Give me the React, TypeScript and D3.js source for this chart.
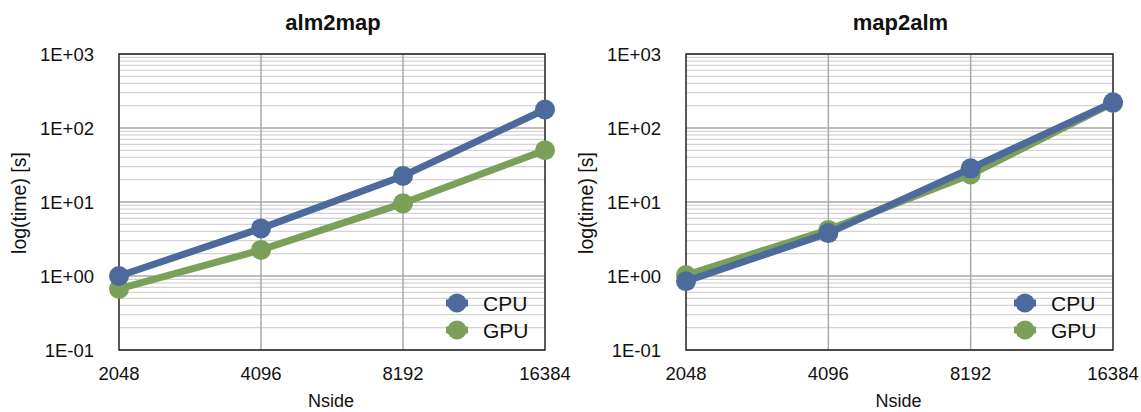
import React, { useEffect, useRef } from 'react';
import * as d3 from 'd3';

const nsides = [2048, 4096, 8192, 16384];
const yTicks = [0.1, 1, 10, 100, 1000];
const yTickLabels = ['1E-01', '1E+00', '1E+01', '1E+02', '1E+03'];

const alm2mapCPU = [1.0, 4.4, 22.5, 178];
const alm2mapGPU = [0.67, 2.25, 9.6, 50];
const map2almCPU = [0.85, 3.8, 28.5, 222];
const map2almGPU = [1.03, 4.2, 23.5, 218];

const seriesNames = ['CPU', 'GPU'];
const colors = { CPU: '#4d6a9c', GPU: '#7ba05a' };

const panels = [
  { title: 'alm2map', cpu: alm2mapCPU, gpu: alm2mapGPU, left: 119, right: 545 },
  { title: 'map2alm', cpu: map2almCPU, gpu: map2almGPU, left: 686, right: 1113 }
];

const width = 1141;
const height = 412;
const top = 54;
const bottom = 350;
const font = '"Liberation Sans", Arial, Helvetica, sans-serif';

function App() {
  const ref = useRef<SVGSVGElement>(null);

  useEffect(() => {
    const svg = d3.select(ref.current);
    svg.selectAll('*').remove();

    panels.forEach(p => {
      const x = d3.scalePoint<number>().domain(nsides).range([p.left, p.right]);
      const y = d3.scaleLog().domain([0.1, 1000]).range([bottom, top]);
      const g = svg.append('g');

      // minor grid
      const minor: number[] = [];
      [0.1, 1, 10, 100].forEach(d => {
        for (let k = 2; k <= 9; k++) minor.push(d * k);
      });
      g.selectAll('.minor').data(minor).enter().append('line')
        .attr('x1', p.left).attr('x2', p.right)
        .attr('y1', d => y(d)).attr('y2', d => y(d))
        .attr('stroke', '#d4d4d4').attr('stroke-width', 1.2);

      g.selectAll('.major').data(yTicks).enter().append('line')
        .attr('x1', p.left).attr('x2', p.right)
        .attr('y1', d => y(d)).attr('y2', d => y(d))
        .attr('stroke', '#a9a9a9').attr('stroke-width', 1.5);

      g.selectAll('.vgrid').data(nsides.slice(1, 3)).enter().append('line')
        .attr('x1', d => x(d)!).attr('x2', d => x(d)!)
        .attr('y1', top).attr('y2', bottom)
        .attr('stroke', '#a9a9a9').attr('stroke-width', 1.5);

      g.append('rect')
        .attr('x', p.left).attr('y', top)
        .attr('width', p.right - p.left).attr('height', bottom - top)
        .attr('fill', 'none').attr('stroke', '#222').attr('stroke-width', 1.5);

      // tick labels
      g.selectAll('.ylab').data(yTicks).enter().append('text')
        .attr('x', p.left - 25).attr('y', d => y(d))
        .attr('dy', '0.36em').attr('text-anchor', 'end')
        .attr('font-family', font).attr('font-size', 18.5).attr('fill', '#111')
        .text((d, i) => yTickLabels[i]);

      g.selectAll('.xlab').data(nsides).enter().append('text')
        .attr('x', d => x(d)!).attr('y', 373)
        .attr('dy', '0.36em').attr('text-anchor', 'middle')
        .attr('font-family', font).attr('font-size', 18.5).attr('fill', '#111')
        .text(d => String(d));

      const cx = (p.left + p.right) / 2;
      g.append('text')
        .attr('x', cx + 1).attr('y', 22).attr('dy', '0.36em')
        .attr('text-anchor', 'middle').attr('font-family', font)
        .attr('font-weight', 'bold').attr('font-size', 22).attr('fill', '#111')
        .text(p.title);

      g.append('text')
        .attr('x', cx - 1).attr('y', 402).attr('dy', '0.3em')
        .attr('text-anchor', 'middle').attr('font-family', font)
        .attr('font-size', 18).attr('fill', '#111')
        .text('Nside');

      g.append('text')
        .attr('transform', `translate(${p.left - 100},${(top + bottom) / 2 + 1}) rotate(-90)`)
        .attr('dy', '0.36em').attr('text-anchor', 'middle')
        .attr('font-family', font).attr('font-size', 19.5).attr('fill', '#111')
        .text('log(time) [s]');

      const line = d3.line<number>()
        .x((d, i) => x(nsides[i])!)
        .y(d => y(d));

      const series = [
        { name: 'GPU', values: p.gpu },
        { name: 'CPU', values: p.cpu }
      ];
      series.forEach(s => {
        const c = colors[s.name as 'CPU' | 'GPU'];
        g.append('path').datum(s.values)
          .attr('d', line).attr('fill', 'none')
          .attr('stroke', c).attr('stroke-width', 7)
          .attr('stroke-linejoin', 'round');
        g.selectAll(null).data(s.values).enter().append('circle')
          .attr('cx', (d, i) => x(nsides[i])!).attr('cy', d => y(d))
          .attr('r', 10).attr('fill', c);
      });

      // legend
      seriesNames.forEach((name, i) => {
        const c = colors[name as 'CPU' | 'GPU'];
        const ly = 303 + i * 27;
        const lx = p.right - 88;
        g.append('line')
          .attr('x1', lx - 11).attr('x2', lx + 11)
          .attr('y1', ly).attr('y2', ly)
          .attr('stroke', c).attr('stroke-width', 7);
        g.append('circle').attr('cx', lx).attr('cy', ly).attr('r', 9.5).attr('fill', c);
        g.append('text')
          .attr('x', lx + 26).attr('y', ly).attr('dy', '0.36em')
          .attr('font-family', font).attr('font-size', 21).attr('fill', '#111')
          .text(name);
      });
    });
  }, []);

  return (
    <svg ref={ref} width={width} height={height}
      style={{ position: 'absolute', left: 0, top: 0, background: '#fff' }} />
  );
}

export default App;
